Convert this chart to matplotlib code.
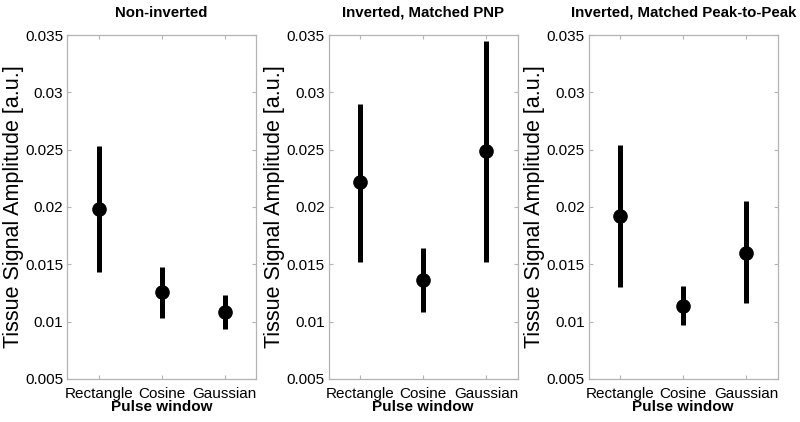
import matplotlib
matplotlib.use("Agg")
import matplotlib.pyplot as plt

plt.rcParams['font.family'] = ['Liberation Sans', 'DejaVu Sans']

windows = ["Rectangle", "Cosine", "Gaussian"]
titles = ["Non-inverted", "Inverted, Matched PNP", "Inverted, Matched Peak-to-Peak"]

# mean, lower and upper end of each bar, per panel
means = [
    [0.0198, 0.0126, 0.0108],
    [0.0222, 0.0136, 0.0249],
    [0.0192, 0.0114, 0.0160],
]
lows = [
    [0.0143, 0.0103, 0.0094],
    [0.0152, 0.0108, 0.0152],
    [0.0130, 0.0097, 0.0116],
]
highs = [
    [0.0253, 0.0148, 0.0123],
    [0.0290, 0.0164, 0.0345],
    [0.0254, 0.0131, 0.0205],
]
yticks = [0.005, 0.01, 0.015, 0.02, 0.025, 0.03, 0.035]
ytick_labels = ["0.005", "0.01", "0.015", "0.02", "0.025", "0.03", "0.035"]

fig = plt.figure(figsize=(8, 4.22), dpi=100)
lefts = [0.084, 0.411, 0.736]
spine_col = "#b4b4b4"

for i in range(3):
    ax = fig.add_axes([lefts[i], 0.102, 0.236, 0.815])
    xs = [1, 2, 3]
    for x, m, lo, hi in zip(xs, means[i], lows[i], highs[i]):
        ax.plot([x, x], [lo, hi], color="black", lw=3.6, solid_capstyle="butt")
    ax.plot(xs, means[i], "o", color="black", ms=9.5)

    ax.set_xlim(0.5, 3.5)
    ax.set_ylim(0.005, 0.035)
    ax.set_xticks(xs)
    ax.set_xticklabels(windows, fontsize=11)
    ax.set_yticks(yticks)
    ax.set_yticklabels(ytick_labels, fontsize=11)
    ax.tick_params(direction="in", length=3, color=spine_col, top=True, right=True, pad=3)
    ax.tick_params(axis="x", pad=6)
    for s in ax.spines.values():
        s.set_color(spine_col)
        s.set_linewidth(0.9)

    ax.set_title(titles[i], fontsize=10.8, fontweight="bold", pad=13)
    ax.set_xlabel("Pulse window", fontsize=11, fontweight="bold", labelpad=-1)
    ax.set_ylabel("Tissue Signal Amplitude [a.u.]", fontsize=15.5, labelpad=1)

plt.savefig("out.png", dpi=100)
